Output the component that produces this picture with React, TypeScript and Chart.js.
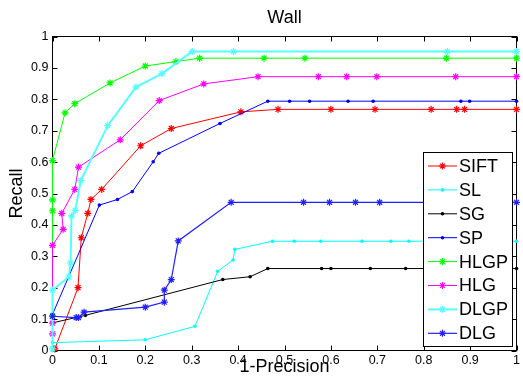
import React, { useEffect, useRef } from 'react';
import { Chart, registerables } from 'chart.js';

Chart.register(...registerables);

const chartTitle = 'Wall';
const xTitle = '1-Precision';
const yTitle = 'Recall';
const tickValues = [0, 0.1, 0.2, 0.3, 0.4, 0.5, 0.6, 0.7, 0.8, 0.9, 1];

const seriesNames = ['SIFT', 'SL', 'SG', 'SP', 'HLGP', 'HLG', 'DLGP', 'DLG'];

const siftX = [0.005, 0.055, 0.062, 0.076, 0.083, 0.106, 0.19, 0.256, 0.406, 0.486, 0.6, 0.695, 0.816, 0.871, 0.888, 1];
const siftY = [0.005, 0.2, 0.359, 0.437, 0.481, 0.513, 0.652, 0.707, 0.76, 0.768, 0.768, 0.768, 0.768, 0.768, 0.768, 0.768];

const slX = [0, 0, 0.2, 0.307, 0.356, 0.389, 0.393, 0.474, 0.521, 0.578, 0.667, 0.729, 0.768, 1];
const slY = [0, 0.025, 0.034, 0.077, 0.252, 0.288, 0.322, 0.348, 0.348, 0.348, 0.348, 0.348, 0.348, 0.348];

const sgX = [0, 0.071, 0.367, 0.426, 0.464, 0.58, 0.6, 0.685, 0.761, 1];
const sgY = [0.088, 0.112, 0.226, 0.235, 0.261, 0.261, 0.261, 0.261, 0.261, 0.261];

const spX = [0, 0.101, 0.14, 0.172, 0.217, 0.229, 0.361, 0.464, 0.511, 0.554, 0.637, 0.691, 0.88, 0.899, 1];
const spY = [0.115, 0.463, 0.481, 0.506, 0.601, 0.628, 0.723, 0.794, 0.794, 0.794, 0.794, 0.794, 0.794, 0.794, 0.794];

const hlgpX = [0, 0, 0, 0, 0.027, 0.048, 0.124, 0.2, 0.266, 0.317, 0.456, 0.544, 0.849, 1];
const hlgpY = [0.11, 0.445, 0.48, 0.605, 0.757, 0.786, 0.852, 0.906, 0.92, 0.931, 0.931, 0.931, 0.931, 0.931];

const hlgX = [0, 0, 0, 0.023, 0.02, 0.048, 0.056, 0.146, 0.23, 0.326, 0.443, 0.573, 0.634, 0.699, 0.869, 1];
const hlgY = [0.053, 0.087, 0.335, 0.386, 0.437, 0.513, 0.584, 0.671, 0.796, 0.849, 0.872, 0.872, 0.872, 0.872, 0.872, 0.872];

const dlgpX = [0, 0, 0.035, 0.039, 0.041, 0.049, 0.061, 0.119, 0.18, 0.236, 0.301, 0.39, 0.851, 1];
const dlgpY = [0.005, 0.192, 0.234, 0.279, 0.428, 0.446, 0.541, 0.716, 0.839, 0.882, 0.952, 0.952, 0.952, 0.952];

const dlgX = [0, 0.051, 0.056, 0.068, 0.2, 0.241, 0.241, 0.256, 0.271, 0.385, 0.541, 0.597, 0.653, 0.705, 1];
const dlgY = [0.109, 0.105, 0.105, 0.122, 0.138, 0.154, 0.192, 0.226, 0.349, 0.472, 0.472, 0.472, 0.472, 0.472, 0.472];

const seriesX = [siftX, slX, sgX, spX, hlgpX, hlgX, dlgpX, dlgX];
const seriesY = [siftY, slY, sgY, spY, hlgpY, hlgY, dlgpY, dlgY];
const seriesColors = ['#ff0000', '#00ffff', '#000000', '#0000ff', '#00ff00', '#ff00ff', '#55ffff', '#2020ff'];
const seriesWidths = [1, 1, 1, 1, 1, 1, 2, 1.2];
const seriesMarkers = ['star', 'dot', 'dot', 'dot', 'star', 'star', 'star', 'star'];

const FONT = '"Liberation Sans", Arial, Helvetica, sans-serif';

function drawMarker(ctx: CanvasRenderingContext2D, kind: string, x: number, y: number, color: string) {
  ctx.save();
  if (kind === 'dot') {
    ctx.fillStyle = color;
    ctx.beginPath();
    ctx.arc(x, y, 1.8, 0, Math.PI * 2);
    ctx.fill();
  } else {
    const r = 3.5;
    ctx.strokeStyle = color;
    ctx.lineWidth = 1.2;
    ctx.beginPath();
    ctx.moveTo(x - r, y); ctx.lineTo(x + r, y);
    ctx.moveTo(x, y - r); ctx.lineTo(x, y + r);
    const d = r * 0.7;
    ctx.moveTo(x - d, y - d); ctx.lineTo(x + d, y + d);
    ctx.moveTo(x - d, y + d); ctx.lineTo(x + d, y - d);
    ctx.stroke();
  }
  ctx.restore();
}

const framePlugin = {
  id: 'matlabFrame',
  beforeDatasetsDraw(chart: any) {
    const { ctx, chartArea: a, scales } = chart;
    const xs = scales.x;
    const ys = scales.y;
    ctx.save();
    ctx.strokeStyle = '#000';
    ctx.lineWidth = 1;
    ctx.strokeRect(a.left, a.top, a.right - a.left, a.bottom - a.top);
    ctx.beginPath();
    for (const v of tickValues) {
      const px = Math.round(xs.getPixelForValue(v)) + 0.5;
      ctx.moveTo(px, a.bottom); ctx.lineTo(px, a.bottom - 5);
      ctx.moveTo(px, a.top); ctx.lineTo(px, a.top + 5);
      const py = Math.round(ys.getPixelForValue(v)) + 0.5;
      ctx.moveTo(a.left, py); ctx.lineTo(a.left + 5, py);
      ctx.moveTo(a.right, py); ctx.lineTo(a.right - 5, py);
    }
    ctx.stroke();
    ctx.fillStyle = '#000';
    ctx.font = '18px ' + FONT;
    ctx.textAlign = 'center';
    ctx.textBaseline = 'middle';
    ctx.fillText(chartTitle, (a.left + a.right) / 2, 18);
    ctx.restore();
  },
  afterDraw(chart: any) {
    const { ctx } = chart;
    ctx.save();
    const bx = 423.5, by = 152.5, bw = 89, bh = 194;
    ctx.fillStyle = '#fff';
    ctx.fillRect(bx, by, bw, bh);
    ctx.strokeStyle = '#000';
    ctx.lineWidth = 1;
    ctx.strokeRect(bx, by, bw, bh);
    for (let i = 0; i < seriesNames.length; i++) {
      const yy = 166 + i * 23.9;
      ctx.strokeStyle = seriesColors[i];
      ctx.lineWidth = seriesWidths[i];
      ctx.beginPath();
      ctx.moveTo(428, yy);
      ctx.lineTo(457, yy);
      ctx.stroke();
      drawMarker(ctx, seriesMarkers[i], 442.5, yy, seriesColors[i]);
      ctx.fillStyle = '#000';
      ctx.font = '18px ' + FONT;
      ctx.textAlign = 'left';
      ctx.textBaseline = 'middle';
      ctx.fillText(seriesNames[i], 459, yy + 1);
    }
    ctx.restore();
  },
};

function fmt(v: any) {
  return String(Number(Number(v).toFixed(1)));
}

export default function App() {
  const ref = useRef<HTMLCanvasElement | null>(null);
  useEffect(() => {
    if (!ref.current) return;
    Chart.defaults.font.family = FONT;
    const datasets = seriesNames.map((name, i) => ({
      label: name,
      data: seriesX[i].map((x, j) => ({ x, y: seriesY[i][j] })),
      showLine: true,
      borderColor: seriesColors[i],
      backgroundColor: seriesColors[i],
      borderWidth: seriesWidths[i],
      pointStyle: seriesMarkers[i] === 'dot' ? 'circle' : 'star',
      pointRadius: seriesMarkers[i] === 'dot' ? 1.8 : 3.5,
      pointBorderWidth: seriesMarkers[i] === 'dot' ? 0 : 1.2,
      pointBorderColor: seriesColors[i],
      pointBackgroundColor: seriesColors[i],
      tension: 0,
      clip: false as any,
      order: 10 - i,
    }));
    const chart = new Chart(ref.current, {
      type: 'scatter',
      data: { datasets },
      plugins: [framePlugin],
      options: {
        animation: false,
        responsive: true,
        maintainAspectRatio: false,
        devicePixelRatio: 1,
        layout: { padding: { top: 36.5, right: 0.5, left: 0, bottom: 0 } },
        plugins: {
          legend: { display: false },
          tooltip: { enabled: false },
          title: { display: false },
        },
        scales: {
          x: {
            type: 'linear',
            min: 0,
            max: 1,
            grid: { display: false, drawTicks: false },
            border: { display: false },
            afterFit: (s: any) => { s.height = 34.5; },
            afterBuildTicks: (s: any) => { s.ticks = tickValues.map((v) => ({ value: v })); },
            ticks: {
              color: '#000',
              font: { size: 12.5 },
              padding: 3,
              autoSkip: false,
              maxRotation: 0,
              callback: fmt,
            },
            title: {
              display: true,
              text: xTitle,
              color: '#000',
              font: { size: 18 },
              padding: { top: 0, bottom: 7 },
            },
          },
          y: {
            type: 'linear',
            min: 0,
            max: 1,
            grid: { display: false, drawTicks: false },
            border: { display: false },
            afterFit: (s: any) => { s.width = 52.5; },
            afterBuildTicks: (s: any) => { s.ticks = tickValues.map((v) => ({ value: v })); },
            ticks: {
              color: '#000',
              font: { size: 12.5 },
              padding: 4,
              autoSkip: false,
              callback: fmt,
            },
            title: {
              display: true,
              text: yTitle,
              color: '#000',
              font: { size: 18 },
              padding: { top: 6, bottom: 0 },
            },
          },
        },
      },
    });
    return () => chart.destroy();
  }, []);
  return (
    <div style={{ position: 'fixed', left: 0, top: 0, width: 523, height: 385, background: '#fff' }}>
      <canvas ref={ref} />
    </div>
  );
}
